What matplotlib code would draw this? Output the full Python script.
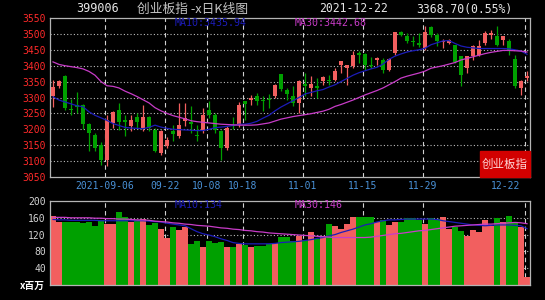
import matplotlib
matplotlib.use("Agg")
import matplotlib.pyplot as plt
import matplotlib.transforms as mtransforms
import numpy as np

# daily candles 2021-08-24 .. 2021-12-22 (80 trading days)
opens = [3304, 3335, 3367, 3265, 3275, 3275, 3217, 3183, 3152, 3105,
         3220, 3262, 3230, 3210, 3240, 3200, 3238, 3199, 3126, 3146,
         3194, 3178, 3226, 3223, 3183, 3194, 3262, 3246, 3196, 3141,
         3215, 3215, 3288, 3293, 3304, 3293, 3296, 3304, 3374, 3325,
         3304, 3283, 3342, 3330, 3337, 3351, 3356, 3356, 3403, 3393,
         3398, 3440, 3437, 3403, 3419, 3419, 3388, 3440, 3506, 3492,
         3479, 3471, 3456, 3521, 3496, 3473, 3471, 3464, 3430, 3393,
         3430, 3435, 3471, 3498, 3492, 3482, 3477, 3422, 3330, 3361]
highs = [3356, 3354, 3370, 3296, 3317, 3280, 3220, 3188, 3160, 3246,
         3258, 3283, 3246, 3246, 3250, 3275, 3242, 3204, 3199, 3175,
         3213, 3283, 3283, 3272, 3215, 3267, 3288, 3251, 3199, 3209,
         3238, 3286, 3290, 3309, 3314, 3304, 3311, 3342, 3374, 3330,
         3335, 3356, 3377, 3367, 3361, 3367, 3372, 3393, 3414, 3403,
         3447, 3447, 3440, 3426, 3426, 3424, 3424, 3506, 3510, 3503,
         3492, 3503, 3524, 3524, 3503, 3485, 3485, 3464, 3430, 3430,
         3466, 3482, 3508, 3513, 3524, 3492, 3485, 3435, 3356, 3382]
lows = [3269, 3330, 3262, 3244, 3251, 3200, 3131, 3133, 3089, 3084,
        3205, 3199, 3178, 3195, 3205, 3195, 3196, 3128, 3120, 3140,
        3162, 3173, 3210, 3188, 3162, 3188, 3236, 3188, 3105, 3136,
        3200, 3207, 3230, 3275, 3277, 3256, 3267, 3300, 3322, 3293,
        3272, 3251, 3304, 3304, 3299, 3340, 3340, 3351, 3377, 3338,
        3393, 3409, 3388, 3393, 3403, 3377, 3384, 3435, 3492, 3471,
        3461, 3458, 3450, 3490, 3461, 3456, 3468, 3409, 3335, 3377,
        3419, 3430, 3466, 3485, 3461, 3466, 3435, 3330, 3307, 3351]
closes = [3332, 3351, 3267, 3260, 3271, 3217, 3188, 3141, 3105, 3230,
          3255, 3223, 3222, 3228, 3222, 3240, 3204, 3131, 3194, 3167,
          3186, 3213, 3236, 3217, 3180, 3246, 3246, 3199, 3141, 3204,
          3210, 3277, 3280, 3300, 3288, 3288, 3292, 3340, 3328, 3311,
          3283, 3351, 3335, 3342, 3330, 3363, 3352, 3382, 3414, 3403,
          3435, 3435, 3403, 3398, 3424, 3388, 3422, 3506, 3498, 3479,
          3475, 3466, 3506, 3496, 3477, 3477, 3482, 3412, 3372, 3430,
          3461, 3461, 3503, 3503, 3466, 3492, 3450, 3335, 3353, 3369]
volumes = [165, 149, 151, 149, 150, 147, 150, 141, 154, 145,
           146, 173, 162, 151, 154, 157, 143, 147, 133, 113,
           137, 130, 138, 98, 105, 90, 105, 101, 103, 90,
           90, 98, 95, 90, 94, 94, 97, 101, 114, 114,
           105, 117, 106, 126, 109, 117, 146, 141, 133, 146,
           161, 161, 163, 163, 150, 154, 143, 151, 151, 159,
           159, 154, 146, 159, 157, 162, 134, 138, 129, 117,
           131, 127, 155, 141, 159, 150, 165, 147, 139, 20]
ma10 = [3302, 3292, 3286, 3280, 3274, 3271, 3255, 3244, 3236, 3228,
        3218, 3212, 3206, 3204, 3203, 3202, 3206, 3213, 3207, 3203,
        3200, 3199, 3198, 3197, 3196, 3196, 3200, 3205, 3207, 3209,
        3212, 3216, 3216, 3219, 3225, 3235, 3244, 3258, 3270, 3280,
        3290, 3300, 3311, 3316, 3321, 3325, 3333, 3340, 3350, 3360,
        3370, 3378, 3384, 3390, 3395, 3405, 3420, 3430, 3437, 3443,
        3447, 3450, 3455, 3466, 3472, 3478, 3479, 3470, 3462, 3458,
        3456, 3454, 3454, 3454, 3454, 3454, 3453, 3450, 3446, 3436]
ma30 = [3412, 3404, 3400, 3397, 3394, 3390, 3382, 3370, 3350, 3337,
        3335, 3330, 3320, 3312, 3303, 3293, 3283, 3268, 3258, 3250,
        3243, 3238, 3233, 3227, 3224, 3222, 3220, 3218, 3216, 3215,
        3214, 3213, 3213, 3213, 3214, 3217, 3220, 3226, 3232, 3236,
        3240, 3243, 3246, 3249, 3253, 3257, 3263, 3272, 3278, 3285,
        3292, 3300, 3308, 3315, 3322, 3330, 3340, 3350, 3361, 3367,
        3372, 3377, 3383, 3392, 3396, 3400, 3405, 3410, 3418, 3423,
        3428, 3433, 3438, 3442, 3445, 3448, 3448, 3447, 3446, 3443]
vol_ma10 = [156, 155, 155, 154, 154, 154, 154, 154, 153, 153,
            153, 153, 153, 153, 153, 153, 152, 151, 150, 147,
            145, 143, 141, 134, 127, 122, 119, 115, 110, 106,
            101, 99, 98, 98, 98, 98, 98, 99, 101, 102,
            103, 104, 106, 108, 111, 113, 117, 120, 125, 129,
            133, 138, 143, 146, 150, 153, 155, 155, 156, 157,
            157, 157, 157, 157, 156, 153, 151, 149, 147, 145,
            143, 142, 141, 142, 143, 143, 143, 142, 141, 134]
vol_ma30 = [161, 161, 161, 160, 160, 160, 160, 159, 159, 158,
            158, 157, 157, 156, 155, 155, 154, 152, 151, 150,
            148, 147, 145, 144, 142, 141, 140, 138, 136, 135,
            133, 132, 130, 129, 127, 126, 124, 123, 122, 121,
            120, 119, 118, 117, 116, 115, 114, 113, 113, 113,
            113, 113, 113, 114, 116, 118, 120, 122, 123, 125,
            127, 129, 130, 132, 134, 136, 138, 140, 141, 142,
            143, 144, 145, 145, 146, 147, 148, 149, 148, 146]
date_pos = [9, 19, 26, 32, 42, 52, 62, 79]
date_labels = ["2021-09-06", "09-22", "10-08", "10-18", "11-01", "11-15", "11-29", "12-22"]
price_ticks = [3050, 3100, 3150, 3200, 3250, 3300, 3350, 3400, 3450, 3500, 3550]
vol_ticks = [40, 80, 120, 160, 200]

RED = "#f25f5f"
GREEN = "#00a000"
BLUE = "#1c1cb8"
MAGENTA = "#c83cc8"
GRID = "#bdbdbd"
MONO = ["DejaVu Sans Mono", "Noto Sans CJK SC"]
CJK = ["Noto Sans CJK SC", "DejaVu Sans"]

W, H = 545, 300
fig = plt.figure(figsize=(W / 100, H / 100), dpi=100, facecolor="black")


def box(l, t, r, b):
    return [l / W, 1 - b / H, (r - l) / W, (b - t) / H]


ax = fig.add_axes(box(50, 18, 530, 177))
axv = fig.add_axes(box(50, 201, 530, 285))

o = np.array(opens, float)
c = np.array(closes, float)
x = np.arange(len(o))
cols = [RED if ci >= oi else GREEN for oi, ci in zip(o, c)]

for a in (ax, axv):
    a.set_facecolor("black")
    a.set_xlim(-0.5, len(o) - 0.5)
    a.set_xticks([])
    for s in a.spines.values():
        s.set_color("#b4b4b4")
        s.set_linewidth(0.9)
    a.tick_params(axis="y", length=0, pad=3)
    for d in date_pos:
        a.axvline(d - 0.4, color="#d0d0d0", lw=0.8, ls=(0, (4, 3)), zorder=1)

# price panel
ax.set_ylim(3050, 3550)
ax.set_yticks(price_ticks)
ax.set_yticklabels([str(t) for t in price_ticks], color="#ff2a2a", family=MONO, fontsize=7)
for t in price_ticks[1:-1]:
    ax.axhline(t, color=GRID, lw=0.8, ls=(0, (1, 2)), zorder=1)
ax.vlines(x, lows, highs, colors=cols, lw=0.9, zorder=3)
ax.bar(x, np.maximum(np.abs(c - o), 3), bottom=np.minimum(o, c), width=0.78,
       color=cols, linewidth=0, zorder=3)
ax.plot(x, ma10, color=BLUE, lw=0.9, zorder=4)
ax.plot(x, ma30, color=MAGENTA, lw=0.9, zorder=4)

trans = mtransforms.blended_transform_factory(ax.transData, ax.transAxes)
for d, lab in zip(date_pos, date_labels):
    ha = "center"
    xd = d - 0.4
    if d == date_pos[-1]:
        ha, xd = "right", d - 1.2
    ax.text(xd, -0.057, lab, transform=trans, ha=ha, va="center",
            color="#4a92d8", family=MONO, fontsize=7)

ax.text(0.259, 0.966, "MA10:3435.94", transform=ax.transAxes, color=BLUE,
        family=MONO, fontsize=7.2, ha="left", va="center", zorder=6)
ax.text(0.510, 0.966, "MA30:3442.68", transform=ax.transAxes, color=MAGENTA,
        family=MONO, fontsize=7.2, ha="left", va="center", zorder=6)

# red badge
fig.patches.append(plt.Rectangle((480 / W, 1 - 177 / H), 50 / W, 26 / H,
                                 transform=fig.transFigure, color="#d20000", zorder=5))
fig.text(505 / W, 1 - 164 / H, "创业板指", color="#ffd6d6", family=CJK, fontsize=8.3,
         ha="center", va="center", zorder=6)

# volume panel
axv.set_ylim(0, 200)
axv.set_yticks(vol_ticks)
axv.set_yticklabels([str(t) for t in vol_ticks], color="#d2d2d2", family=MONO, fontsize=7)
for t in vol_ticks[:-1]:
    axv.axhline(t, color=GRID, lw=0.8, ls=(0, (1, 2)), zorder=1)
axv.bar(x, volumes, width=0.86, color=cols, linewidth=0, zorder=2)
axv.plot(x, vol_ma10, color=BLUE, lw=0.9, zorder=4)
axv.plot(x, vol_ma30, color=MAGENTA, lw=0.9, zorder=4)
axv.text(0.259, 0.95, "MA10:134", transform=axv.transAxes, color=BLUE,
         family=MONO, fontsize=7.2, ha="left", va="center", zorder=6)
axv.text(0.510, 0.95, "MA30:146", transform=axv.transAxes, color=MAGENTA,
         family=MONO, fontsize=7.2, ha="left", va="center", zorder=6)
fig.text(45 / W, 1 - 286 / H, "x百万", color="white", family=CJK, fontsize=7,
         ha="right", va="center", fontweight="bold")

# header
fig.text(98 / W, 1 - 9 / H, "399006", color="#e6e6e6", family=MONO, fontsize=8.5,
         ha="center", va="center")
fig.text(137 / W, 1 - 9 / H, "创业板指 -x日K线图", color="#c4c4c4", family=CJK, fontsize=9.2,
         ha="left", va="center")
fig.text(353 / W, 1 - 9 / H, "2021-12-22", color="#e6e6e6", family=MONO, fontsize=8.3,
         ha="center", va="center")
fig.text(464 / W, 1 - 9 / H, "3368.70(0.55%)", color="#e6e6e6", family=MONO, fontsize=8.3,
         ha="center", va="center")

fig.savefig("out.png", dpi=100, facecolor="black")
